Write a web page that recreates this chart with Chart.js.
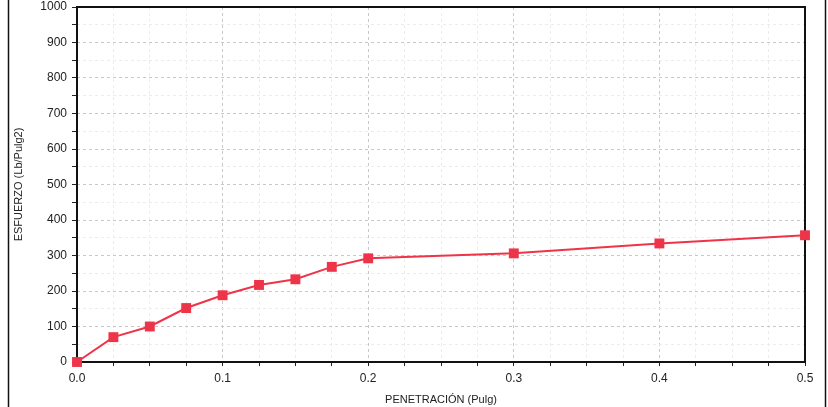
<!DOCTYPE html>
<html>
<head>
<meta charset="utf-8">
<script src="https://cdn.jsdelivr.net/npm/chart.js@4/dist/chart.umd.min.js"></script>
<style>
  html,body{margin:0;padding:0;background:#fff;}
  #wrap{width:828px;height:407px;position:relative;}
</style>
</head>
<body>
<div id="wrap"><canvas id="cbr"></canvas></div>
<script>
// lecturas del ensayo (penetración en pulg, esfuerzo en lb/pulg2)
const penetracion = [0, 0.025, 0.05, 0.075, 0.1, 0.125, 0.15, 0.175, 0.2, 0.3, 0.4, 0.5];
const esfuerzo = [0, 70, 100, 152, 188, 217, 233, 268, 292, 306, 334, 357];
const xTicks = [0, 0.1, 0.2, 0.3, 0.4, 0.5];
const yTicks = [0, 100, 200, 300, 400, 500, 600, 700, 800, 900, 1000];

const FONT = "'Liberation Sans Narrow','Liberation Sans',Arial,sans-serif";
const ROJO = '#ee3448';

const isMajor = (v, step) => Math.abs(v/step - Math.round(v/step)) < 1e-6;

const marcos = {
  id:'marcos',
  beforeDatasetsDraw(chart){
    const {ctx, chartArea:a} = chart;
    ctx.save();
    ctx.strokeStyle = '#111';
    ctx.lineWidth = 2;
    ctx.strokeRect(a.left, a.top, a.right - a.left, a.bottom - a.top);
    ctx.restore();
  },
  afterDraw(chart){
    const {ctx} = chart;
    ctx.save();
    // marco exterior del gráfico
    ctx.strokeStyle = '#111';
    ctx.lineWidth = 1.5;
    ctx.beginPath();
    ctx.moveTo(8.5, 0); ctx.lineTo(8.5, 407);
    ctx.moveTo(825.5, 0); ctx.lineTo(825.5, 407);
    ctx.stroke();
    ctx.restore();
  }
};

new Chart(document.getElementById('cbr'), {
  type:'line',
  data:{
    datasets:[{
      data: penetracion.map((x,i)=>({x, y: esfuerzo[i]})),
      borderColor: ROJO,
      backgroundColor: ROJO,
      borderWidth: 2,
      pointStyle: 'rect',
      pointRadius: 7,
      pointBorderWidth: 0,
      tension: 0,
      clip: false
    }]
  },
  options:{
    responsive:true,
    maintainAspectRatio:false,
    animation:false,
    layout:{padding:{top:6, right:23, left:0, bottom:0}},
    plugins:{legend:{display:false}, tooltip:{enabled:false}},
    scales:{
      x:{
        type:'linear', min:0, max:0.5,
        afterBuildTicks: s => { s.ticks = []; for(let i=0;i<=20;i++) s.ticks.push({value: +(i*0.025).toFixed(3)}); },
        afterFit: s => { s.height = 45; s.paddingLeft = 0; s.paddingRight = 0; },
        ticks:{
          font:{family:FONT, size:12}, color:'#222', padding:5, maxRotation:0, autoSkip:false,
          callback: v => xTicks.some(t => Math.abs(t-v) < 1e-6) ? v.toFixed(1) : ''
        },
        grid:{
          color: c => isMajor(c.tick.value, 0.1) ? '#c8c8c8' : '#ececec',
          tickColor:'#222', tickLength:4, lineWidth:1
        },
        border:{display:false, dash:[3,3]},
        title:{display:true, text:'PENETRACIÓN (Pulg)', font:{family:FONT, size:11}, color:'#222', padding:{top:4, bottom:0}}
      },
      y:{
        min:0, max:1000,
        afterBuildTicks: s => { s.ticks = []; for(let v=0; v<=1000; v+=50) s.ticks.push({value:v}); },
        afterFit: s => { s.width = 77; s.paddingTop = 0; s.paddingBottom = 0; },
        ticks:{
          font:{family:FONT, size:12}, color:'#222', padding:5, autoSkip:false,
          callback: v => yTicks.includes(v) ? String(v) : ''
        },
        grid:{
          color: c => isMajor(c.tick.value, 100) ? '#c8c8c8' : '#ececec',
          tickColor:'#222', tickLength:5, lineWidth:1
        },
        border:{display:false, dash:[3,3]},
        title:{display:true, text:'ESFUERZO (Lb/Pulg2)', font:{family:FONT, size:11}, color:'#222', padding:{top:12, bottom:0}}
      }
    }
  },
  plugins:[marcos]
});
</script>
</body>
</html>
